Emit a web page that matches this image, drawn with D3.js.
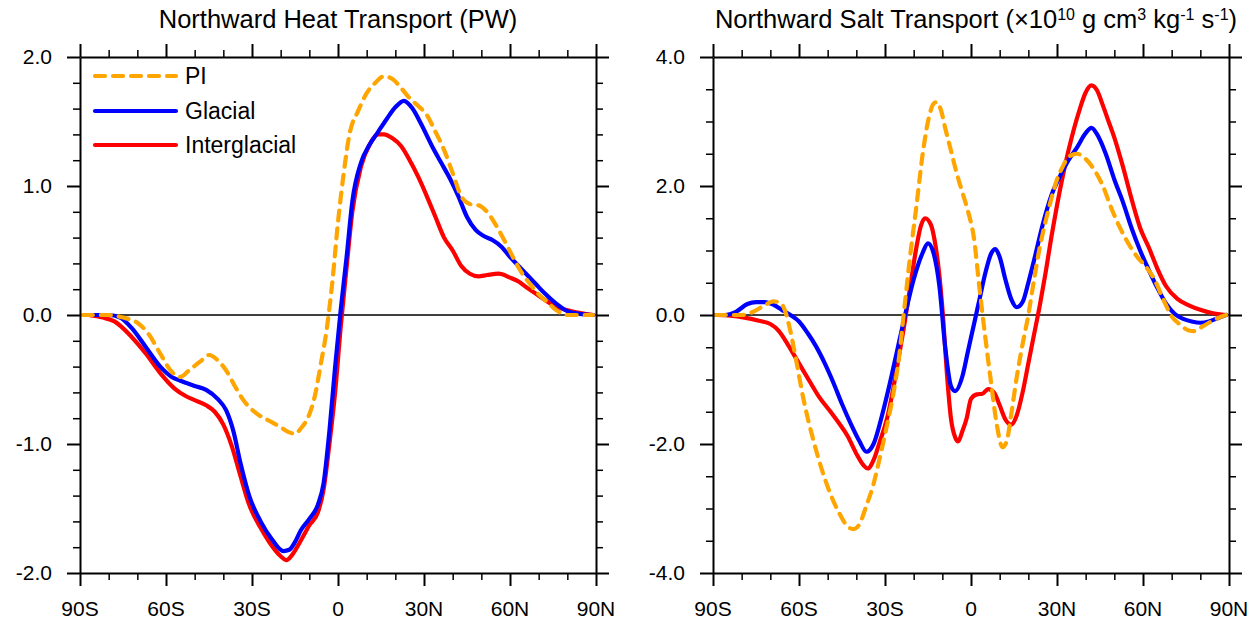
<!DOCTYPE html>
<html>
<head>
<meta charset="utf-8">
<script src="https://cdn.jsdelivr.net/npm/d3@7"></script>
<style>
  body { margin: 0; background: #fff; }
  svg { display: block; }
  text { font-family: "Liberation Sans", Arial, Helvetica, sans-serif; fill: #000; }
</style>
</head>
<body>
<svg id="chart" width="1259" height="630"></svg>
<script>
// ---- data ----
const latTicks = [-90, -60, -30, 0, 30, 60, 90]
const latLabels = ["90S", "60S", "30S", "0", "30N", "60N", "90N"]
const heatTicks = [-2, -1, 0, 1, 2]
const saltTicks = [-4, -2, 0, 2, 4]

const heatPiLat = [-89,-80,-75,-70,-66,-62,-58,-55,-52,-48,-45,-42,-39,-36,-33,-28,-24,-20,-17,-15,-13,-10,-8,-6,-4,-2,0,2,4,7,10,13,16,19,22,25,28,31,34,37,40,43,46,49,52,55,58,61,64,67,70,73,76,80,84,89]
const heatPi = [0,0,-0.02,-0.06,-0.15,-0.30,-0.44,-0.48,-0.43,-0.36,-0.31,-0.35,-0.43,-0.55,-0.66,-0.77,-0.82,-0.87,-0.91,-0.92,-0.88,-0.77,-0.62,-0.38,-0.12,0.25,0.72,1.10,1.40,1.58,1.72,1.80,1.85,1.83,1.76,1.68,1.62,1.55,1.42,1.28,1.10,0.92,0.86,0.85,0.80,0.70,0.58,0.45,0.33,0.24,0.16,0.10,0.04,0,0,0]

const heatGlacialLat = [-87,-80,-76,-72,-67,-62,-58,-55,-50,-46,-42,-39,-36.5,-34,-31,-27,-23,-19,-17,-15,-13,-10,-7,-5,-3,-1,1,3,5,8,11,14,17,20,23,26,29,33,36,39,42,45,48,51,54,57,60,63,66,69,72,76,80,84,89]
const heatGlacial = [0,0,-0.02,-0.10,-0.25,-0.40,-0.48,-0.51,-0.55,-0.58,-0.65,-0.74,-0.90,-1.15,-1.40,-1.60,-1.74,-1.83,-1.82,-1.76,-1.67,-1.58,-1.47,-1.30,-0.90,-0.40,0.05,0.45,0.88,1.18,1.32,1.42,1.52,1.61,1.66,1.60,1.48,1.30,1.18,1.06,0.92,0.76,0.66,0.61,0.58,0.53,0.45,0.38,0.31,0.24,0.17,0.09,0.03,0.01,0]

const heatInterLat = [-87,-82,-78,-72,-67,-62,-57,-53,-50,-46,-43,-40,-37,-34,-31,-27,-24,-20,-18,-16,-13,-10,-7,-5,-3,-1,1,3,5,8,11,14,16,19,22,25,28,31,34,37,40,43,46,49,52,56,60,63,66,70,74,78,83,89]
const heatInter = [0,-0.02,-0.05,-0.17,-0.30,-0.45,-0.57,-0.63,-0.66,-0.70,-0.75,-0.85,-1.02,-1.25,-1.47,-1.65,-1.76,-1.87,-1.90,-1.86,-1.75,-1.63,-1.53,-1.35,-1.00,-0.60,-0.08,0.37,0.80,1.15,1.32,1.40,1.40,1.37,1.31,1.20,1.07,0.92,0.76,0.60,0.50,0.38,0.32,0.30,0.31,0.32,0.29,0.26,0.21,0.15,0.09,0.05,0.02,0]

const saltPiLat = [-89,-80,-76,-72,-69,-67,-65,-63,-61,-58.6,-55,-52,-49,-46,-43,-41,-39,-36.6,-34,-32,-29.5,-27,-25,-23.5,-21,-19,-17,-15,-13,-12,-10.5,-9,-7,-5,-3,-1,1,3,5,7,9,11,12.5,14,16,18,20,22,24,26,28,30,32,34,37,40,43,46,49,52,55,58,61,64,67,70,73,76,78,80,83,86,89]
const saltPi = [0,0,0.05,0.15,0.21,0.20,0.08,-0.25,-0.70,-1.27,-1.94,-2.40,-2.78,-3.07,-3.28,-3.32,-3.25,-2.97,-2.62,-2.25,-1.75,-1.20,-0.62,0,1.0,1.7,2.45,3.0,3.28,3.30,3.18,2.90,2.55,2.20,1.90,1.60,1.20,0.40,-0.35,-1.05,-1.70,-2.05,-1.95,-1.55,-0.95,-0.45,0,0.55,1.05,1.45,1.80,2.10,2.30,2.45,2.50,2.42,2.25,2.00,1.65,1.35,1.10,0.90,0.75,0.55,0.25,-0.02,-0.15,-0.24,-0.25,-0.20,-0.12,-0.05,0]

const saltGlacialLat = [-89,-86,-82,-78,-75,-72,-69,-66,-63,-60,-57,-54,-51,-48,-45,-42,-39,-36.5,-34,-31,-28,-25,-23,-20,-17,-15,-13,-11,-9,-7,-5.5,-3,-1,1,3,5,7,8.5,10,12,14,16,18,20,22,25,28,31,34,37,40,42,44,47,50,53,56,59,62,65,68,71,74,77,80,83,86,89]
const saltGlacial = [0,0,0.05,0.17,0.20,0.20,0.16,0.08,0,-0.10,-0.28,-0.49,-0.75,-1.05,-1.38,-1.68,-1.95,-2.12,-2.0,-1.55,-1.0,-0.4,0,0.55,0.95,1.11,0.95,0.44,-0.50,-1.10,-1.18,-0.95,-0.55,-0.15,0.25,0.65,0.95,1.02,0.90,0.55,0.25,0.12,0.20,0.50,0.85,1.40,1.85,2.15,2.40,2.60,2.82,2.90,2.80,2.50,2.10,1.75,1.35,1.00,0.70,0.42,0.18,0.02,-0.06,-0.10,-0.12,-0.10,-0.05,0]

const saltInterLat = [-89,-84,-79,-74,-70,-67,-64,-60,-56,-53,-49,-46,-43,-40,-37.5,-36,-34,-32,-29,-27,-25,-23,-21,-19,-17.5,-16,-14,-12.7,-11,-9.8,-8.5,-7,-5.5,-4.5,-3,-1.5,0,2,4,6,8,10,12,14,16,18,20,22,24,26,28,30,32,34,36,38,40,42,44,46,48,50,53,56,59,62,65,68,72,76,80,84,89]
const saltInter = [0,-0.01,-0.04,-0.09,-0.14,-0.25,-0.45,-0.75,-1.05,-1.27,-1.50,-1.68,-1.88,-2.15,-2.33,-2.38,-2.25,-1.99,-1.55,-1.11,-0.60,-0.08,0.50,1.06,1.38,1.50,1.40,1.16,0.60,0,-0.85,-1.60,-1.90,-1.96,-1.80,-1.60,-1.30,-1.23,-1.22,-1.15,-1.20,-1.40,-1.62,-1.70,-1.55,-1.20,-0.75,-0.30,0.15,0.65,1.20,1.70,2.15,2.55,2.90,3.20,3.45,3.56,3.48,3.25,3.00,2.75,2.30,1.80,1.35,1.05,0.72,0.45,0.25,0.15,0.08,0.03,0]

const seriesNames = ["PI", "Glacial", "Interglacial"]
const seriesColors = ["#FFA500", "#0000FF", "#FF0000"]

// ---- drawing ----
const svg = d3.select("#chart")

function drawPanel(p) {
  const x = d3.scaleLinear().domain([-90, 90]).range([p.x0, p.x1])
  const y = d3.scaleLinear().domain([-p.ymax, p.ymax]).range([p.y1, p.y0])
  const g = svg.append("g")

  // zero reference line
  g.append("line")
    .attr("x1", p.x0).attr("x2", p.x1)
    .attr("y1", y(0)).attr("y2", y(0))
    .attr("stroke", "#000").attr("stroke-width", 1.5)

  const line = d3.line()
    .x(d => x(d[0]))
    .y(d => y(d[1]))
    .curve(d3.curveMonotoneX)

  // draw PI last so it sits on top, like the reference
  const order = [2, 1, 0]
  order.forEach(i => {
    const s = p.series[i]
    g.append("path")
      .datum(s.lat.map((la, k) => [la, s.val[k]]))
      .attr("d", line)
      .attr("fill", "none")
      .attr("stroke", seriesColors[i])
      .attr("stroke-width", 4.2)
      .attr("stroke-linejoin", "round")
      .attr("stroke-linecap", "round")
      .attr("stroke-dasharray", i === 0 ? "10,8" : null)
  })

  // minor ticks
  const xMinor = d3.range(-90, 91, 10).filter(v => v % 30 !== 0)
  const yMinor = d3.range(-p.ymax, p.ymax + 1e-9, p.minorStep)
    .filter(v => !p.ticks.some(t => Math.abs(t - v) < 1e-6))

  const axes = [
    [d3.axisBottom(x), `translate(0,${p.y1})`, xMinor, latTicks],
    [d3.axisTop(x), `translate(0,${p.y0})`, xMinor, latTicks],
    [d3.axisLeft(y), `translate(${p.x0},0)`, yMinor, p.ticks],
    [d3.axisRight(y), `translate(${p.x1},0)`, yMinor, p.ticks]
  ]
  axes.forEach(([ax, tr, minor, major]) => {
    g.append("g").attr("transform", tr)
      .call(ax.tickValues(minor).tickSize(7).tickSizeOuter(0).tickFormat(""))
      .call(a => a.select(".domain").remove())
      .call(a => a.selectAll("line").attr("stroke-width", 1.5))
    g.append("g").attr("transform", tr)
      .call(ax.tickValues(major).tickSize(13).tickSizeOuter(0).tickFormat(""))
      .call(a => a.select(".domain").attr("stroke-width", 2))
      .call(a => a.selectAll("line").attr("stroke-width", 2))
  })

  // tick labels
  g.selectAll(".xlab").data(latTicks).enter().append("text")
    .attr("x", d => x(d)).attr("y", 616)
    .attr("text-anchor", "middle")
    .style("font-size", "21px")
    .text((d, i) => latLabels[i])

  g.selectAll(".ylab").data(p.ticks).enter().append("text")
    .attr("x", p.x0 - 28).attr("y", d => y(d) + 7)
    .attr("text-anchor", "end")
    .style("font-size", "21px")
    .text(d => d.toFixed(1))

  return { g, x, y }
}

const left = drawPanel({
  x0: 80, x1: 596, y0: 57, y1: 573, ymax: 2, minorStep: 0.2, ticks: heatTicks,
  series: [
    { lat: heatPiLat, val: heatPi },
    { lat: heatGlacialLat, val: heatGlacial },
    { lat: heatInterLat, val: heatInter }
  ]
})

const right = drawPanel({
  x0: 713, x1: 1229, y0: 57, y1: 573, ymax: 4, minorStep: 0.5, ticks: saltTicks,
  series: [
    { lat: saltPiLat, val: saltPi },
    { lat: saltGlacialLat, val: saltGlacial },
    { lat: saltInterLat, val: saltInter }
  ]
})

// titles
svg.append("text")
  .attr("x", 338).attr("y", 28)
  .attr("text-anchor", "middle")
  .style("font-size", "25.5px")
  .text("Northward Heat Transport (PW)")

const t2 = svg.append("text")
  .attr("x", 976).attr("y", 28)
  .attr("text-anchor", "middle")
  .style("font-size", "25.5px")
const parts = [["Northward Salt Transport (\u00d710", 0], ["10", 1], [" g cm", 0], ["3", 1], [" kg", 0], ["-1", 1], [" s", 0], ["-1", 1], [")", 0]]
parts.forEach(([txt, sup]) => {
  t2.append("tspan")
    .attr("baseline-shift", sup ? "super" : null)
    .style("font-size", sup ? "16px" : "25.5px")
    .text(txt)
})

// legend
const legendY = [76, 111, 145]
seriesNames.forEach((name, i) => {
  const lg = svg.append("g")
  lg.append("line")
    .attr("x1", 95).attr("x2", 176)
    .attr("y1", legendY[i]).attr("y2", legendY[i])
    .attr("stroke", seriesColors[i]).attr("stroke-width", 4.2)
    .attr("stroke-linecap", "round")
    .attr("stroke-dasharray", i === 0 ? "10,8" : null)
  lg.append("text")
    .attr("x", 185).attr("y", legendY[i] + 8)
    .style("font-size", "23px")
    .text(name)
})
</script>
</body>
</html>
